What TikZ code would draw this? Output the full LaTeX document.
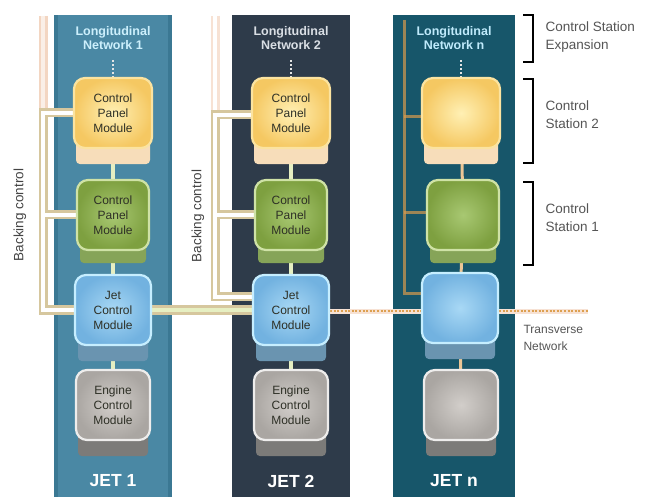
\documentclass[tikz,border=0pt]{standalone}
\usepackage{fontspec}
\setmainfont{Liberation Sans}
\definecolor{bandA}{HTML}{4A88A4}
\definecolor{bandAe}{HTML}{3B7893}
\definecolor{bandB}{HTML}{2E3B4A}
\definecolor{bandC}{HTML}{17566A}
\definecolor{yelI}{HTML}{FFF0B4}
\definecolor{yelO}{HTML}{F5C862}
\definecolor{yelE}{HTML}{FBE3A0}
\definecolor{yelL}{HTML}{F7DDBA}
\definecolor{grnI}{HTML}{A8C872}
\definecolor{grnO}{HTML}{7EA040}
\definecolor{grnE}{HTML}{CFE2A6}
\definecolor{grnL}{HTML}{86A458}
\definecolor{bluI}{HTML}{A8D8F5}
\definecolor{bluO}{HTML}{72B2E0}
\definecolor{bluE}{HTML}{C6EEFF}
\definecolor{bluL}{HTML}{6A94B0}
\definecolor{gryI}{HTML}{D2CECA}
\definecolor{gryO}{HTML}{AAA6A2}
\definecolor{gryE}{HTML}{EEEDEC}
\definecolor{gryL}{HTML}{7C7B79}
\definecolor{boxtext}{HTML}{2E3026}
\definecolor{labgray}{HTML}{555555}
\definecolor{tan}{HTML}{D6C79E}
\definecolor{peach}{HTML}{F3D6C2}
\definecolor{orng}{HTML}{DDA050}
\definecolor{conncol}{HTML}{E6EFC2}
\definecolor{titleB}{HTML}{D9DEE4}
\pgfdeclarelayer{bg}
\pgfdeclarelayer{conn}
\pgfdeclarelayer{lip}
\pgfsetlayers{bg,conn,lip,main}
\tikzset{
  modbox/.style={rounded corners=11pt, minimum width=#1, minimum height=70pt, line width=2.2pt,
    align=center, font=\fontsize{12}{15}\selectfont, text=boxtext, inner sep=0pt},
  yelbox/.style={modbox=78pt, draw=yelE, inner color=yelI, outer color=yelO},
  grnbox/.style={modbox=72pt, draw=grnE, inner color=grnI, outer color=grnO},
  blubox/.style={modbox=76pt, draw=bluE, inner color=bluI, outer color=bluO},
  grybox/.style={modbox=74pt, draw=gryE, inner color=gryI, outer color=gryO},
  title/.style={font=\fontsize{12.5}{14}\selectfont\bfseries, align=center},
  jetlab/.style={font=\fontsize{17.5}{18}\selectfont\bfseries, text=white},
  sidelab/.style={font=\fontsize{13.5}{18}\selectfont, text=labgray, align=left, anchor=north west},
  rotlab/.style={font=\fontsize{13.5}{14}\selectfont, text=labgray!80!black, rotate=90},
  bkout/.style={draw=tan, line width=9pt},
  bkin/.style={draw=white, line width=4.5pt},
  bkinT/.style={draw=conncol, line width=4.5pt},
  conn/.style={draw=conncol, line width=3.5pt},
  toplink/.style={draw=white!80!gray, line width=2pt, dash pattern=on 2pt off 2pt},
  trans/.style={draw=orng, line width=2.6pt, dash pattern=on 2pt off 1.6pt},
  col3line/.style={draw=orng!80!brown, line width=3pt, opacity=0.7},
  brk/.style={draw=black, line width=1.6pt},
}
\begin{document}
\begin{tikzpicture}[x=1pt,y=-1pt]
\useasboundingbox (0,0) rectangle (659,497);

% ---------- modules ----------
\foreach \c/\x in {1/113,2/291} {
  \node[yelbox] (cp\c) at (\x,113) {Control\\Panel\\Module};
  \node[grnbox] (pm\c) at (\x,215) {Control\\Panel\\Module};
  \node[blubox] (jc\c) at (\x,310) {Jet\\Control\\Module};
  \node[grybox] (ec\c) at (\x,405) {Engine\\Control\\Module};
}
\node[yelbox] (cp3) at (461,113) {};
\node[grnbox] (pm3) at (463,215) {};
\node[blubox] (jc3) at (460,308) {};
\node[grybox] (ec3) at (461,405) {};

% ---------- bands ----------
\begin{pgfonlayer}{bg}
  \fill[white] (0,0) rectangle (659,497);
  \fill[bandA] (54,15) rectangle (172,497);
  \fill[bandAe] (54,15) rectangle (58,497);
  \fill[bandAe] (168,15) rectangle (172,497);
  \fill[bandB] (232,15) rectangle (350,497);
  \fill[bandC] (393,15) rectangle (515,497);
\end{pgfonlayer}

% ---------- lips under modules ----------
\begin{pgfonlayer}{lip}
  \foreach \c in {1,2,3} {
    \fill[yelL, rounded corners=4pt] ([xshift=-37pt,yshift=10pt]cp\c.south) rectangle ([xshift=37pt,yshift=-15pt]cp\c.south);
    \fill[grnL, rounded corners=4pt] ([xshift=-33pt,yshift=10pt]pm\c.south) rectangle ([xshift=33pt,yshift=-12pt]pm\c.south);
    \fill[bluL, rounded corners=4pt] ([xshift=-35pt,yshift=10pt]jc\c.south) rectangle ([xshift=35pt,yshift=-15pt]jc\c.south);
    \fill[gryL, rounded corners=4pt] ([xshift=-35pt,yshift=10pt]ec\c.south) rectangle ([xshift=35pt,yshift=-15pt]ec\c.south);
  }
\end{pgfonlayer}

% ---------- coordinates for free ends ----------
\coordinate (t1) at (113,60);
\coordinate (t2) at (291,60);
\coordinate (t3) at (461,60);
\coordinate (b1top) at (43,16);
\coordinate (b1a) at (43,113);
\coordinate (b1b) at (43,215);
\coordinate (b1c) at (43,310);
\coordinate (b2top) at (215,16);
\coordinate (b2a) at (215,115);
\coordinate (b2b) at (215,215);
\coordinate (b2c) at (215,297);
\coordinate (b3top) at (404,20);
\coordinate (b3a) at (404,117);
\coordinate (b3b) at (404,213);
\coordinate (b3c) at (404,294);
\coordinate (tend) at (588,311);

% ---------- connectors ----------
\begin{pgfonlayer}{conn}
  % faint upper parts of backing lines
  \draw[draw=peach, line width=9pt] (b1top) -- (b1a);
  \draw[draw=white!60!peach, line width=4pt] (b1top) -- (b1a);
  \draw[draw=peach!70!white, line width=9pt] (b2top) -- (b2a);
  \draw[draw=white, line width=4pt] (b2top) -- (b2a);
  % backing control outer
  \draw[bkout] (cp1.west |- b1a) -- (b1a) -- (b1c) -- (jc1.west |- b1c);
  \draw[bkout] (b1b) -- (pm1.west |- b1b);
  \draw[bkout] (jc1.east |- b1c) -- (jc2.west |- b1c);
  \draw[bkout] (cp2.west |- b2a) -- (b2a) -- (b2c) -- (jc2.west |- b2c);
  \draw[bkout] (b2b) -- (pm2.west |- b2b);
  % backing control inner
  \draw[bkin] (cp1.west |- b1a) -- (b1a) -- (b1c) -- (jc1.west |- b1c);
  \draw[bkin] (b1b) -- (pm1.west |- b1b);
  \draw[bkinT] (jc1.east |- b1c) -- (jc2.west |- b1c);
  \draw[bkin] (cp2.west |- b2a) -- (b2a) -- (b2c) -- (jc2.west |- b2c);
  \draw[bkin] (b2b) -- (pm2.west |- b2b);
  % column 3 backing line
  \draw[col3line] (b3top) -- (b3c) -- (jc3.west |- b3c);
  \draw[col3line] (b3a) -- (cp3.west |- b3a);
  \draw[col3line] (b3b) -- (pm3.west |- b3b);
  % vertical links
  \foreach \c in {1,2} {
    \draw[toplink] (t\c) -- (cp\c.north);
    \draw[conn] (cp\c) -- (pm\c);
    \draw[conn] (pm\c) -- (jc\c);
    \draw[conn] (jc\c) -- (ec\c);
  }
  \draw[toplink] (t3) -- (cp3.north);
  \draw[draw=orng!60!white, line width=3pt] (cp3) -- (pm3);
  \draw[draw=orng!60!white, line width=3pt] (pm3) -- (jc3);
  \draw[draw=orng!60!white, line width=3pt] (jc3) -- (ec3);
  % transverse network
  \draw[draw=peach!70!white, line width=5pt] (jc2.east |- tend) -- (jc3.west |- tend);
  \draw[trans] (jc2.east |- tend) -- (jc3.west |- tend);
  \draw[draw=peach!70!white, line width=5pt] (jc3.east |- tend) -- (tend);
  \draw[trans] (jc3.east |- tend) -- (tend);
\end{pgfonlayer}

% ---------- titles ----------
\node[title, text=white!80!cyan] (n1) at (113,38) {Longitudinal\\Network 1};
\node[title, text=titleB] (n2) at (291,38) {Longitudinal\\Network 2};
\node[title, text=white!75!cyan] (n3) at (454,38) {Longitudinal\\Network n};
\node[jetlab] (j1) at (113,481) {JET 1};
\node[jetlab] (j2) at (291,481) {JET 2};
\node[jetlab] (j3) at (454,481) {JET n};

% ---------- backing control labels ----------
\node[rotlab] (bc1) at (20,215) {Backing control};
\node[rotlab] (bc2) at (198,216) {Backing control};

% ---------- brackets ----------
\draw[brk] (523,15) -- (533,15) -- (533,62) -- (523,62);
\draw[brk] (523,79) -- (533,79) -- (533,163) -- (523,163);
\draw[brk] (523,182) -- (533,182) -- (533,265) -- (523,265);
\node[sidelab] (s1) at (542,18) {Control Station\\Expansion};
\node[sidelab] (s2) at (542,97) {Control\\Station 2};
\node[sidelab] (s3) at (542,200) {Control\\Station 1};
\node[sidelab, font=\fontsize{12}{17}\selectfont] (s4) at (520,322) {Transverse\\Network};
\end{tikzpicture}
\end{document}
